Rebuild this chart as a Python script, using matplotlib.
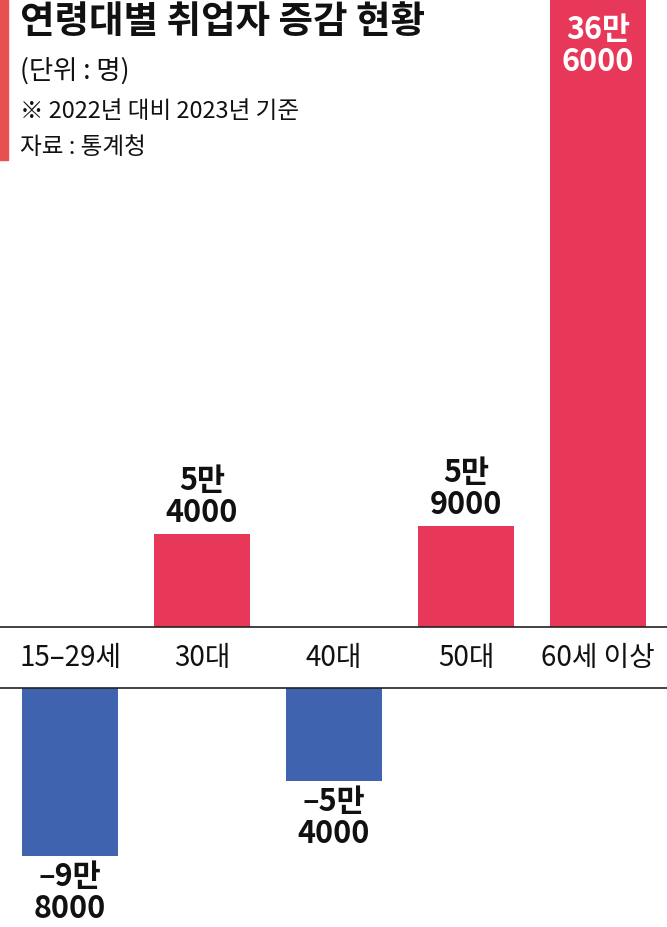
import matplotlib.pyplot as plt

plt.rcParams['font.family'] = ['Noto Sans CJK KR', 'DejaVu Sans']

# data
categories = ['15–29세', '30대', '40대', '50대', '60세 이상']
values = [-98000, 54000, -54000, 59000, 366000]
value_labels = ['–9만\n8000', '5만\n4000', '–5만\n4000', '5만\n9000', '36만\n6000']

RED = '#E8385A'
BLUE = '#3F63AE'

# pixels -> data: 1 px = 583.7 people, label band 61 px tall
px = 366000 / 627
gap = 61 * px


def main():
    fig = plt.figure(figsize=(6.67, 9.27), dpi=100)
    ax = fig.add_axes([0, 0, 1, 1])
    ax.set_xlim(-70 / 132, 597 / 132)
    ax.set_ylim(-(927 - 627) * px, 366000)
    ax.axis('off')

    for i, v in enumerate(values):
        if v >= 0:
            ax.bar(i, v, width=0.72, bottom=0, color=RED)
            if v > 300000:
                ax.text(i, v - 14 * px, value_labels[i], ha='center', va='top',
                        color='white', fontsize=22, fontweight='bold', linespacing=1.0)
            else:
                ax.text(i, v + 5 * px, value_labels[i], ha='center', va='bottom',
                        color='#111111', fontsize=22, fontweight='bold', linespacing=1.0)
        else:
            ax.bar(i, v, width=0.72, bottom=-gap, color=BLUE)
            ax.text(i, v - gap - 5 * px, value_labels[i], ha='center', va='top',
                    color='#111111', fontsize=22, fontweight='bold', linespacing=1.0)
        ax.text(i, -gap / 2, categories[i], ha='center', va='center',
                color='#111111', fontsize=20)

    # label band lines
    ax.axhline(0, color='#222222', lw=1.2)
    ax.axhline(-gap, color='#222222', lw=1.2)

    # header
    fig.patches.append(plt.Rectangle((0, 1 - 160 / 927), 8 / 667, 160 / 927,
                                     transform=fig.transFigure, color='#E8504F'))
    fig.text(20 / 667, 1 - 22 / 927, '연령대별 취업자 증감 현황', ha='left', va='center',
             fontsize=27, fontweight='bold', color='#111111')
    fig.text(20 / 667, 1 - 71 / 927, '(단위 : 명)', ha='left', va='center',
             fontsize=19, color='#111111')
    fig.text(20 / 667, 1 - 112 / 927, '※ 2022년 대비 2023년 기준', ha='left', va='center',
             fontsize=17, color='#111111')
    fig.text(20 / 667, 1 - 148 / 927, '자료 : 통계청', ha='left', va='center',
             fontsize=17, color='#111111')

    fig.savefig('out.png', dpi=100)


if __name__ == '__main__':
    main()
